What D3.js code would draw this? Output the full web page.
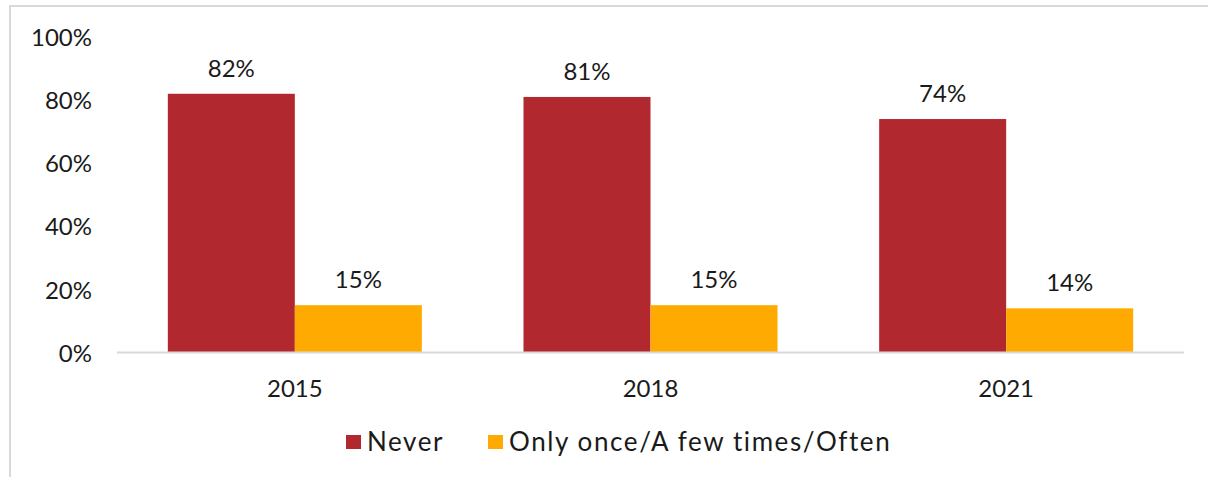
<!DOCTYPE html>
<html>
<head>
<meta charset="utf-8">
<script src="https://cdn.jsdelivr.net/npm/d3@7"></script>
<style>
  html, body { margin: 0; padding: 0; background: #fff; }
  svg { display: block; }
  text { font-family: "Lato", "DejaVu Sans", sans-serif; fill: #1a1a1a; }
</style>
</head>
<body>
<svg id="chart" width="1208" height="477"></svg>
<script>
// Survey years and answer shares (%)
const years = ["2015", "2018", "2021"];
const seriesNames = ["Never", "Only once/A few times/Often"];
const neverValues = [82, 81, 74];
const onceValues = [15, 15, 14];
const yTicks = [0, 20, 40, 60, 80, 100];
const colors = ["#B2282F", "#FFAA00"];

const svg = d3.select("#chart");
const W = 1208, H = 477;

// Chart frame (only its top and left edges fall inside the view)
svg.append("rect")
  .attr("x", 10).attr("y", 6)
  .attr("width", W + 20).attr("height", H + 20)
  .attr("fill", "#fff")
  .attr("stroke", "#d9d9d9").attr("stroke-width", 2);

const plot = { left: 117, right: 1184, top: 37, bottom: 352.5 };

const x = d3.scaleBand()
  .domain(years)
  .range([plot.left, plot.right])
  .paddingInner(0.2858)
  .paddingOuter(0.1429);

const xs = d3.scaleBand()
  .domain(seriesNames)
  .range([0, x.bandwidth()]);

const y = d3.scaleLinear()
  .domain([0, 100])
  .range([plot.bottom, plot.top]);

const series = [neverValues, onceValues];

// Bars and their value labels
series.forEach((vals, si) => {
  const rows = years.map((yr, i) => ({ yr, v: vals[i] }));
  svg.append("g").selectAll("rect")
    .data(rows)
    .join("rect")
    .attr("x", d => x(d.yr) + xs(seriesNames[si]))
    .attr("y", d => y(d.v))
    .attr("width", xs.bandwidth())
    .attr("height", d => y(0) - y(d.v))
    .attr("fill", colors[si]);

  svg.append("g").selectAll("text")
    .data(rows)
    .join("text")
    .attr("x", d => x(d.yr) + xs(seriesNames[si]) + xs.bandwidth() / 2)
    .attr("y", d => y(d.v) - 17)
    .attr("text-anchor", "middle")
    .style("font-size", "24px")
    .text(d => d.v + "%");
});

// Baseline
svg.append("line")
  .attr("x1", plot.left).attr("x2", plot.right)
  .attr("y1", y(0)).attr("y2", y(0))
  .attr("stroke", "#d9d9d9").attr("stroke-width", 2);

// Y axis labels
const yAxis = d3.axisLeft(y).tickValues(yTicks).tickFormat(d => d + "%").tickSize(0).tickPadding(0);
const gy = svg.append("g").attr("transform", "translate(92,0)").call(yAxis);
gy.select(".domain").remove();
gy.selectAll("text")
  .style("font-size", "24px")
  .attr("font-family", null)
  .attr("fill", "#1a1a1a")
  .attr("dy", "0.36em");

// X axis labels
const xAxis = d3.axisBottom(x).tickSize(0).tickPadding(0);
const gx = svg.append("g").attr("transform", `translate(0,${y(0) + 44})`).call(xAxis);
gx.select(".domain").remove();
gx.selectAll("text")
  .style("font-size", "24px")
  .attr("font-family", null)
  .attr("fill", "#1a1a1a")
  .attr("dy", 0);

// Legend
const legendItems = [
  { name: seriesNames[0], color: colors[0], x: 346 },
  { name: seriesNames[1], color: colors[1], x: 488 }
];
const lg = svg.append("g");
legendItems.forEach(it => {
  lg.append("rect")
    .attr("x", it.x).attr("y", 435)
    .attr("width", 15).attr("height", 14)
    .attr("fill", it.color);
  lg.append("text")
    .attr("x", it.x + 21).attr("y", 450.5)
    .style("font-size", "26px")
    .style("letter-spacing", "1.6px")
    .text(it.name);
});
</script>
</body>
</html>
